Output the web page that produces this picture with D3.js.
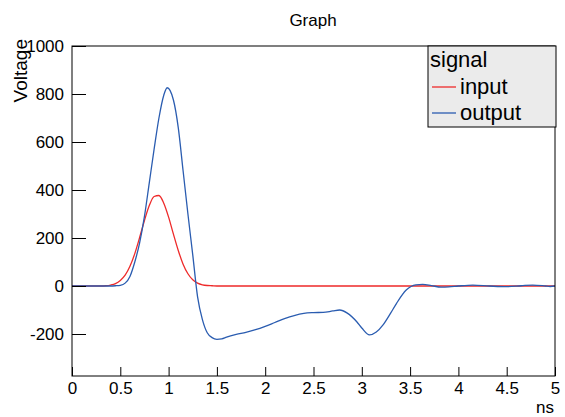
<!DOCTYPE html>
<html>
<head>
<meta charset="utf-8">
<script src="https://cdn.jsdelivr.net/npm/d3@7"></script>
<style>
    body { margin: 0; background: #fff; }
    text { font-family: "Liberation Sans", Arial, sans-serif; fill: #000; }
</style>
</head>
<body>
<svg id="chart" width="565" height="417"></svg>
<script>
const title = 'Graph';
const xLabel = 'ns';
const yLabel = 'Voltage';
const legendTitle = 'signal';
const seriesNames = ['input', 'output'];
const seriesColors = ['#ee2a2a', '#2a5cb0'];

const xTicks = [0, 0.5, 1, 1.5, 2, 2.5, 3, 3.5, 4, 4.5, 5];
const xTickLabels = ['0', '0.5', '1', '1.5', '2', '2.5', '3', '3.5', '4', '4.5', '5'];
const yTicks = [-200, 0, 200, 400, 600, 800, 1000];
const yTickLabels = ['-200', '0', '200', '400', '600', '800', '1000'];

// input pulse (red)
const inputT = [0, 0.3, 0.35, 0.4, 0.45, 0.5, 0.55, 0.6, 0.65, 0.7, 0.75, 0.8, 0.85, 0.9, 0.95,
    1.0, 1.05, 1.1, 1.15, 1.2, 1.25, 1.3, 1.35, 1.4, 1.45, 1.5, 5];
const inputV = [0, 0, 1, 4, 10, 23, 45, 82, 135, 202, 273, 335, 373, 377, 345,
    287, 216, 148, 91, 51, 26, 12, 5, 2, 1, 0, 0];

// output pulse (blue)
const outputT = [0, 0.4, 0.45, 0.5, 0.55, 0.6, 0.65, 0.7, 0.75, 0.8, 0.85, 0.9, 0.95, 0.985,
    1.05, 1.1, 1.15, 1.2, 1.25, 1.3, 1.35, 1.4, 1.45, 1.5, 1.55, 1.6, 1.7, 1.8, 1.9,
    2.0, 2.1, 2.2, 2.3, 2.4, 2.5, 2.6, 2.7, 2.77, 2.85, 2.95, 3.0, 3.08, 3.15, 3.22,
    3.3, 3.36, 3.46, 3.56, 3.63, 3.72, 3.82, 3.9, 4.0, 4.15, 4.32, 4.5, 4.65, 4.77, 4.9, 4.95, 5.0];
const outputV = [0, 0, 1, 3, 12, 40, 100, 180, 290, 430, 570, 700, 795, 826,
    775, 660, 480, 300, 130, -45, -140, -195, -215, -222, -220, -213, -202, -193, -182,
    -168, -152, -136, -123, -114, -111, -110, -104, -100, -113, -150, -175, -204, -192, -162,
    -112, -72, -17, 5, 7, 2, -5, -4, 0, 4, 0, -3, 1, 4, 0, -2, 0];

const frame = {left: 72, right: 555, top: 46, bottom: 376};
const fontFamily = '"Liberation Sans", Arial, sans-serif';

const svg = d3.select('#chart');

const scaleX = d3.scaleLinear().domain([0, 5]).range([frame.left, frame.right]);
const scaleY = d3.scaleLinear().domain([-375, 1000]).range([frame.bottom, frame.top]);

// curves
const series = [
    inputT.map((t, i) => ({t, v: inputV[i]})),
    outputT.map((t, i) => ({t, v: outputV[i]}))
];
const line = d3.line()
    .x(d => scaleX(d.t))
    .y(d => scaleY(d.v))
    .curve(d3.curveMonotoneX);

const plot = svg.append('g').attr('class', 'plot');
series.forEach((s, i) => {
    plot.append('path')
        .attr('d', line(s))
        .attr('fill', 'none')
        .attr('stroke', seriesColors[i])
        .attr('stroke-width', 1.3);
});

// frame
svg.append('rect')
    .attr('x', frame.left)
    .attr('y', frame.top)
    .attr('width', frame.right - frame.left)
    .attr('height', frame.bottom - frame.top)
    .attr('fill', 'none')
    .attr('stroke', '#000')
    .attr('stroke-width', 1);

// x axis: major + minor ticks, drawn inward
const xAxisG = svg.append('g').attr('transform', `translate(0,${frame.bottom})`);
xAxisG.call(d3.axisBottom(scaleX).tickValues(d3.range(0, 5.001, 0.1)).tickSize(-5).tickFormat(''));
xAxisG.call(d3.axisBottom(scaleX).tickValues(xTicks).tickSize(-9)
    .tickFormat((d, i) => xTickLabels[i]).tickPadding(6));
xAxisG.select('.domain').remove();
xAxisG.selectAll('.tick line').attr('stroke', '#000');
xAxisG.selectAll('.tick text')
    .attr('font-size', 17)
    .attr('font-family', fontFamily)
    .attr('fill', '#000');

// y axis
const yAxisG = svg.append('g').attr('transform', `translate(${frame.left},0)`);
yAxisG.call(d3.axisLeft(scaleY).tickValues(d3.range(-360, 1000.1, 40)).tickSize(-7).tickFormat(''));
yAxisG.call(d3.axisLeft(scaleY).tickValues(yTicks).tickSize(-14).tickPadding(8)
    .tickFormat((d, i) => yTickLabels[i]));
yAxisG.select('.domain').remove();
yAxisG.selectAll('.tick line').attr('stroke', '#000');
yAxisG.selectAll('.tick text')
    .attr('font-size', 17)
    .attr('font-family', fontFamily)
    .attr('fill', '#000');

// titles
svg.append('text')
    .attr('x', 313).attr('y', 26)
    .attr('text-anchor', 'middle')
    .attr('font-size', 17)
    .text(title);
svg.append('text')
    .attr('x', frame.right - 1).attr('y', 413)
    .attr('text-anchor', 'end')
    .attr('font-size', 17)
    .text(xLabel);
svg.append('text')
    .attr('transform', `translate(27,${frame.top - 7}) rotate(-90)`)
    .attr('text-anchor', 'end')
    .attr('font-size', 19)
    .text(yLabel);

// legend
const legend = svg.append('g').attr('class', 'legend');
legend.append('rect')
    .attr('x', 428).attr('y', 46)
    .attr('width', 128).attr('height', 81)
    .attr('fill', '#ebebeb')
    .attr('stroke', '#000')
    .attr('stroke-width', 1);
legend.append('text')
    .attr('x', 430).attr('y', 67)
    .attr('font-size', 22)
    .text(legendTitle);
seriesNames.forEach((name, i) => {
    const y = 87 + i * 26;
    legend.append('line')
        .attr('x1', 432).attr('x2', 456)
        .attr('y1', y).attr('y2', y)
        .attr('stroke', seriesColors[i])
        .attr('stroke-width', 1.3);
    legend.append('text')
        .attr('x', 460).attr('y', y + 7)
        .attr('font-size', 22)
        .text(name);
});
</script>
</body>
</html>
